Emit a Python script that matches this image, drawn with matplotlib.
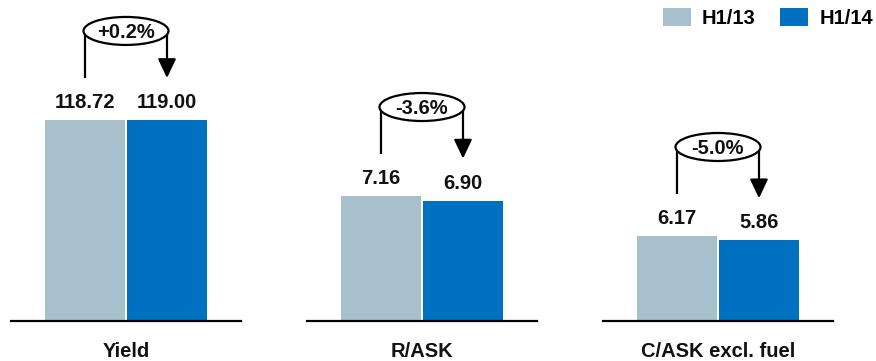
import matplotlib
matplotlib.use("Agg")
import matplotlib.pyplot as plt
from matplotlib.patches import Ellipse, Patch

# Half-year comparison of unit revenue / cost metrics
categories = ["Yield", "R/ASK", "C/ASK excl. fuel"]
series_names = ["H1/13", "H1/14"]
h1_13 = [118.72, 7.16, 6.17]
h1_14 = [119.00, 6.90, 5.86]
changes = ["+0.2%", "-3.6%", "-5.0%"]

# Styling
COLOR_13 = "#A8C0CC"
COLOR_14 = "#0070C0"
TEXT = "#111111"
FS = 14.5
W, H, DPI = 876, 361, 100

plt.rcParams["font.family"] = ["Liberation Sans", "DejaVu Sans"]
plt.rcParams["font.weight"] = "bold"

fig = plt.figure(figsize=(W / DPI, H / DPI), dpi=DPI)

# Each metric gets its own panel with an independent value scale
panel_left_px = [11, 307, 603]
panel_width_px = 230
panel_height_px = 321
panel_ylim_top = [190.0, 18.39, 23.30]

bar_w = 1.0
bar_off = 0.5125
half_span = 1.4375

for i, cat in enumerate(categories):
    ax = fig.add_axes([panel_left_px[i] / W, (H - panel_height_px) / H,
                       panel_width_px / W, panel_height_px / H])
    ax.set_xlim(-half_span, half_span)
    ax.set_ylim(0, panel_ylim_top[i])
    ax.patch.set_visible(False)
    for s in ("top", "left", "right"):
        ax.spines[s].set_visible(False)
    ax.spines["bottom"].set_linewidth(1.6)
    ax.spines["bottom"].set_color("black")
    ax.set_xticks([])
    ax.set_yticks([])

    v13, v14 = h1_13[i], h1_14[i]
    ax.bar(-bar_off, v13, width=bar_w, color=COLOR_13, linewidth=0)
    ax.bar(bar_off, v14, width=bar_w, color=COLOR_14, linewidth=0)

    for x, v in ((-bar_off, v13), (bar_off, v14)):
        ax.annotate(f"{v:.2f}", xy=(x, v), xytext=(0, 12),
                    textcoords="offset pixels", ha="center", va="baseline",
                    fontsize=FS, fontweight="bold", color=TEXT)

    # pixel -> data conversions for this panel
    py = panel_ylim_top[i] / panel_height_px
    px = 2 * half_span / panel_width_px

    ey = max(v13, v14) + 89 * py
    ell = Ellipse((0, ey), width=85 * px, height=28 * py,
                  facecolor="white", edgecolor="black", linewidth=1.6,
                  zorder=5, clip_on=False)
    ax.add_patch(ell)
    ax.plot([-bar_off, -bar_off], [v13 + 42 * py, ey], color="black",
            lw=1.6, zorder=4, clip_on=False, solid_capstyle="butt")
    ax.annotate("", xy=(bar_off, v14 + 42 * py), xytext=(bar_off, ey),
                arrowprops=dict(arrowstyle="-|>,head_length=0.4,head_width=0.19",
                                mutation_scale=29, color="black", lw=1.6,
                                shrinkA=0, shrinkB=0),
                annotation_clip=False, zorder=4)
    ax.annotate(changes[i], xy=(0, ey), xytext=(0, -7),
                textcoords="offset pixels", ha="center", va="baseline",
                fontsize=FS, fontweight="bold", color=TEXT, zorder=6)

    ax.annotate(cat, xy=(0.5, 0), xycoords="axes fraction", xytext=(0, -36),
                textcoords="offset pixels", ha="center", va="baseline",
                fontsize=FS, fontweight="bold", color=TEXT,
                annotation_clip=False)

handles = [Patch(facecolor=COLOR_13, label=series_names[0]),
           Patch(facecolor=COLOR_14, label=series_names[1])]
fig.legend(handles=handles, ncol=2, frameon=False,
           prop={"weight": "bold", "size": FS},
           handlelength=1.39, handleheight=1.0, handletextpad=0.55,
           columnspacing=1.24, borderpad=0, borderaxespad=0,
           loc="upper right", bbox_to_anchor=(873 / W, 1 - 8 / H))

fig.savefig("out.png", dpi=DPI)
